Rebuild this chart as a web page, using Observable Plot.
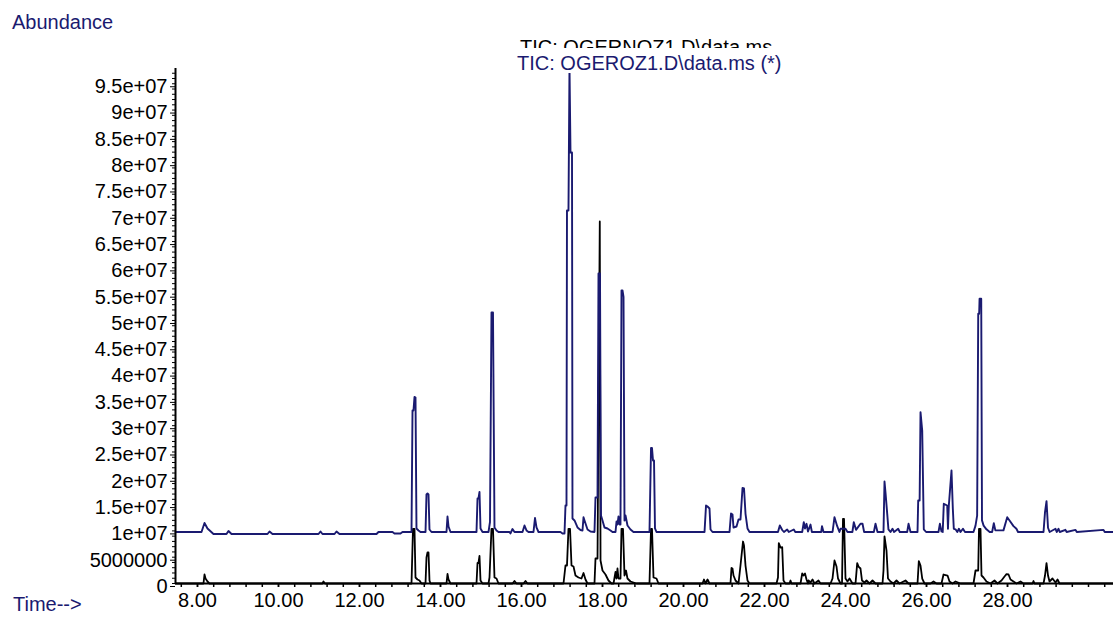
<!DOCTYPE html>
<html>
<head>
<meta charset="utf-8">
<script src="https://cdn.jsdelivr.net/npm/d3@7"></script>
<script src="https://cdn.jsdelivr.net/npm/@observablehq/plot@0.6"></script>
<style>
  html, body { margin: 0; padding: 0; background: #fff; }
  #wrap { position: relative; width: 1113px; height: 620px; overflow: hidden; font-family: "Liberation Sans", Arial, sans-serif; }
  #chart { position: absolute; left: 0; top: 0; }
  .lbl { position: absolute; font-size: 20px; line-height: 20px; white-space: nowrap; }
  #abund { left: 12px; top: 12px; color: #1a1a70; }
  #time { left: 13px; top: 594px; color: #1a1a70; }
  #clip1 { position: absolute; left: 518px; top: 38px; width: 262px; height: 10px; overflow: hidden; }
  #title1 { position: absolute; left: 2px; top: -1px; color: #000; font-size: 20px; line-height: 20px; white-space: nowrap; }
  #title2 { left: 514px; top: 50px; padding: 3px 3px 0 3px; background: #fff; color: #1a1a70; }
</style>
</head>
<body>
<div id="wrap">
  <div id="chart"></div>
  <div class="lbl" id="abund">Abundance</div>
  <div class="lbl" id="time">Time--&gt;</div>
  <div id="clip1"><span id="title1">TIC: OGERNOZ1.D\data.ms</span></div>
  <div class="lbl" id="title2">TIC: OGEROZ1.D\data.ms (*)</div>
</div>
<script>
// Retention time (min) and abundance (millions of counts)
const blueTrace = [
  [7.457, 9.79],[8.099, 9.79],[8.173, 11.50],[8.247, 10.46],[8.395, 9.41],[8.716, 9.41],[8.765, 9.98],[8.840, 9.41],
  [9.728, 9.41],[9.778, 9.89],[9.852, 9.41],[10.988, 9.41],[11.037, 9.89],[11.086, 9.41],[11.383, 9.41],[11.432, 9.89],
  [11.506, 9.41],[12.420, 9.41],[12.469, 9.79],[12.815, 9.79],[12.864, 9.51],[13.012, 9.51],[13.062, 9.79],[13.284, 9.79],
  [13.309, 32.89],[13.333, 32.89],[13.358, 35.46],[13.383, 35.36],[13.407, 10.46],[13.457, 10.08],[13.506, 9.79],
  [13.630, 9.79],[13.654, 16.92],[13.679, 17.11],[13.704, 16.92],[13.728, 10.27],[13.778, 9.79],
  [14.148, 9.79],[14.173, 12.74],[14.198, 10.84],[14.247, 9.79],
  [14.889, 9.79],[14.914, 16.16],[14.938, 16.16],[14.963, 17.40],[14.988, 10.46],[15.037, 9.79],
  [15.185, 9.79],[15.222, 11.69],[15.259, 51.52],[15.296, 51.52],[15.333, 10.65],[15.383, 10.08],[15.432, 9.79],
  [15.704, 9.79],[15.728, 9.51],[15.778, 10.36],[15.827, 9.79],[16.025, 9.79],[16.074, 11.03],[16.123, 10.08],[16.173, 9.79],
  [16.296, 9.79],[16.333, 12.45],[16.370, 10.65],[16.420, 9.79],
  [16.963, 9.79],[17.012, 9.51],[17.062, 9.51],[17.086, 14.83],[17.111, 14.83],[17.123, 70.91],[17.160, 70.91],
  [17.185, 98.29],[17.210, 81.94],[17.247, 81.94],[17.259, 12.36],[17.309, 11.98],[17.383, 10.65],[17.457, 10.17],
  [17.506, 10.08],[17.531, 12.60],[17.556, 11.98],[17.630, 10.27],[17.704, 9.89],
  [17.802, 9.79],[17.827, 16.35],[17.877, 16.35],[17.901, 58.94],[17.938, 58.94],[17.963, 12.93],[18.000, 11.98],
  [18.049, 10.65],[18.123, 10.46],[18.198, 10.08],[18.247, 9.79],
  [18.321, 9.79],[18.346, 11.79],[18.370, 11.22],[18.395, 12.74],[18.420, 11.22],[18.444, 11.22],[18.469, 55.70],
  [18.494, 55.70],[18.519, 54.47],[18.543, 11.98],[18.568, 12.93],[18.617, 11.03],[18.691, 10.27],[18.765, 9.79],
  [19.160, 9.79],[19.198, 25.76],[19.222, 25.76],[19.247, 23.38],[19.272, 23.38],[19.296, 10.46],[19.333, 9.79],
  [20.519, 9.79],[20.556, 14.83],[20.593, 14.64],[20.642, 14.26],[20.667, 10.27],[20.716, 9.79],
  [21.136, 9.79],[21.173, 13.31],[21.210, 13.12],[21.235, 10.65],[21.309, 10.84],[21.358, 12.17],[21.407, 12.17],
  [21.457, 18.16],[21.494, 18.06],[21.531, 13.25],[21.580, 10.46],[21.630, 9.79],
  [22.333, 9.79],[22.378, 11.03],[22.437, 10.17],[22.480, 9.79],[22.560, 10.27],[22.600, 9.79],[22.723, 10.27],[22.760, 9.79],
  [22.931, 9.79],[22.970, 11.65],[23.000, 10.46],[23.037, 11.35],[23.074, 9.89],[23.136, 11.20],[23.170, 9.79],
  [23.400, 9.79],[23.420, 10.90],[23.457, 9.79],[23.680, 9.79],[23.728, 12.60],[23.795, 10.90],[23.850, 9.79],
  [23.877, 10.40],[24.000, 10.40],[24.049, 9.79],[24.170, 9.79],[24.205, 11.65],[24.260, 10.20],[24.370, 11.35],
  [24.420, 11.35],[24.460, 9.79],[24.700, 9.79],[24.741, 11.35],[24.790, 9.79],
  [24.938, 9.79],[24.963, 19.39],[24.990, 17.05],[25.030, 13.25],[25.060, 10.30],[25.111, 9.79],[25.160, 10.40],
  [25.200, 9.79],[25.300, 10.40],[25.340, 9.79],[25.523, 9.79],[25.556, 11.35],[25.605, 9.79],
  [25.778, 9.79],[25.795, 15.78],[25.830, 15.78],[25.852, 32.57],[25.894, 29.09],[25.933, 10.30],[25.990, 9.79],
  [26.296, 9.79],[26.330, 11.35],[26.370, 9.89],[26.400, 9.79],[26.427, 15.15],[26.511, 14.83],[26.530, 10.40],
  [26.551, 14.83],[26.617, 21.48],[26.650, 14.20],[26.674, 10.40],[26.716, 10.30],[26.760, 9.79],[26.800, 10.40],
  [26.840, 9.79],[26.900, 10.40],[26.950, 9.79],
  [27.160, 9.79],[27.210, 11.00],[27.250, 12.90],[27.277, 51.27],[27.300, 51.27],[27.310, 54.13],[27.351, 54.13],
  [27.370, 12.00],[27.410, 11.00],[27.480, 10.30],[27.560, 9.79],[27.620, 9.79],[27.662, 11.46],[27.700, 10.10],
  [27.900, 10.10],[27.993, 12.60],[28.050, 11.98],[28.148, 10.90],[28.220, 10.40],[28.260, 9.79],
  [28.889, 9.79],[28.926, 13.56],[28.963, 15.65],[29.000, 10.60],[29.040, 9.79],[29.185, 10.40],[29.215, 9.79],
  [29.260, 10.40],[29.290, 9.79],[29.430, 10.20],[29.460, 9.79],[29.680, 10.20],[29.710, 9.79],[30.370, 10.20],
  [30.400, 9.79],[30.617, 9.79]
];

const blackTrace = [
  [7.457, 0],[8.148, 0],[8.173, 1.71],[8.198, 0.95],[8.247, 0.38],[8.296, 0],[11.086, 0],[11.111, 0.38],[11.148, 0],
  [13.284, 0],[13.321, 10.4],[13.358, 10.4],[13.383, 1.14],[13.432, 0.76],[13.481, 0.57],[13.531, 0],
  [13.630, 0],[13.654, 4.94],[13.679, 5.89],[13.704, 5.89],[13.728, 0.57],[13.753, 0],
  [14.148, 0],[14.173, 1.81],[14.198, 0.76],[14.247, 0],
  [14.889, 0],[14.914, 3.90],[14.938, 3.90],[14.963, 5.23],[14.988, 0.57],[15.037, 0],
  [15.185, 0],[15.210, 1.14],[15.259, 10.4],[15.296, 10.4],[15.333, 1.14],[15.383, 0.95],[15.432, 0],
  [15.778, 0],[15.827, 0.48],[15.877, 0],[16.049, 0],[16.099, 0.48],[16.148, 0],
  [17.037, 0],[17.086, 3.42],[17.123, 3.42],[17.160, 10.4],[17.198, 10.4],[17.235, 3.42],[17.284, 3.23],
  [17.333, 1.52],[17.407, 1.14],[17.481, 0.95],[17.531, 2.00],[17.580, 0.76],[17.630, 0],
  [17.802, 0],[17.827, 4.75],[17.877, 4.75],[17.933, 68.82],[17.951, 4.37],[18.000, 2.47],[18.074, 1.71],
  [18.148, 0.57],[18.222, 0],
  [18.272, 0],[18.321, 2.19],[18.346, 0.95],[18.370, 2.85],[18.395, 0.95],[18.444, 0.95],[18.469, 10.4],
  [18.506, 10.4],[18.543, 1.52],[18.580, 2.47],[18.617, 0.95],[18.691, 0.38],[18.765, 0.19],[18.840, 0],
  [19.160, 0],[19.198, 10.4],[19.222, 10.4],[19.259, 1.14],[19.333, 0.95],[19.383, 0],
  [20.469, 0],[20.506, 0.76],[20.543, 0],[20.593, 0.76],[20.642, 0],
  [21.160, 0],[21.185, 2.95],[21.210, 2.85],[21.235, 1.52],[21.284, 0.57],[21.358, 0],[21.407, 3.42],
  [21.469, 7.98],[21.494, 7.22],[21.531, 3.42],[21.580, 0.57],[21.630, 0],
  [22.296, 0],[22.333, 1.14],[22.353, 7.66],[22.395, 6.84],[22.437, 6.90],[22.469, 0.57],[22.519, 0],
  [22.617, 0],[22.642, 0.57],[22.667, 0],
  [22.889, 0],[22.931, 1.90],[22.963, 1.52],[23.000, 1.90],[23.037, 0.76],[23.074, 0],[23.086, 0.57],
  [23.136, 0.19],[23.185, 0.76],[23.235, 0],[23.333, 0.57],[23.383, 0],
  [23.630, 0],[23.679, 0.95],[23.728, 4.37],[23.778, 3.23],[23.815, 0.95],[23.877, 0],
  [23.914, 0],[23.938, 12.30],[23.963, 12.30],[24.000, 0.95],[24.049, 0.38],[24.099, 0.95],[24.173, 0],
  [24.247, 0],[24.289, 3.86],[24.321, 3.23],[24.370, 2.85],[24.407, 0.57],[24.469, 0.19],[24.519, 0.57],
  [24.593, 0],[24.667, 0.57],[24.741, 0],
  [24.914, 0],[24.938, 2.47],[24.963, 8.94],[25.012, 6.27],[25.049, 0.95],[25.111, 0.38],[25.185, 0],
  [25.259, 0.57],[25.333, 0],[25.481, 0.57],[25.556, 0],
  [25.778, 0],[25.810, 4.24],[25.852, 3.42],[25.894, 0.95],[25.951, 0],
  [26.099, 0],[26.173, 0.38],[26.247, 0],[26.370, 0],[26.420, 1.71],[26.519, 1.52],[26.568, 0.38],[26.642, 0],
  [26.716, 0.38],[26.840, 0],
  [27.160, 0],[27.210, 2.47],[27.277, 2.47],[27.296, 10.4],[27.333, 10.4],[27.358, 1.52],[27.407, 1.14],
  [27.481, 0.38],[27.580, 0],[27.679, 0.57],[27.753, 0],[27.852, 0.57],[27.926, 1.33],[27.975, 1.77],
  [28.025, 1.71],[28.074, 0.76],[28.148, 0.38],[28.222, 0],[28.321, 0.38],[28.395, 0],
  [28.617, 0],[28.642, 0.48],[28.667, 0],
  [28.889, 0],[28.926, 1.52],[28.963, 3.86],[29.000, 1.52],[29.037, 0.38],[29.111, 0.95],[29.185, 0.19],
  [29.235, 0.76],[29.284, 0],[30.617, 0]
];

const xDomain = [7.457, 30.617];
const yDomain = [0, 97.9];

const yTicks = [0, 5, 10, 15, 20, 25, 30, 35, 40, 45, 50, 55, 60, 65, 70, 75, 80, 85, 90, 95];
const yTickLabels = ["0", "5000000", "1e+07", "1.5e+07", "2e+07", "2.5e+07", "3e+07", "3.5e+07", "4e+07",
  "4.5e+07", "5e+07", "5.5e+07", "6e+07", "6.5e+07", "7e+07", "7.5e+07", "8e+07", "8.5e+07", "9e+07", "9.5e+07"];
const xTicks = [8, 10, 12, 14, 16, 18, 20, 22, 24, 26, 28];
const xTickLabels = ["8.00", "10.00", "12.00", "14.00", "16.00", "18.00", "20.00", "22.00", "24.00", "26.00", "28.00"];

const blueColor = "#1a1a70";
const blackColor = "#000000";

const blueData = blueTrace.map(([t, v]) => ({t, v}));
const blackData = blackTrace.map(([t, v]) => ({t, v}));
const yLabelMap = new Map(yTicks.map((d, i) => [d, yTickLabels[i]]));
const xLabelMap = new Map(xTicks.map((d, i) => [d, xTickLabels[i]]));
const yMinor = d3.range(0, 98, 1);
const xMinor = d3.range(0, 58).map(i => +(7.6 + 0.4 * i).toFixed(1)).filter(d => d <= xDomain[1]);

const chart = Plot.plot({
  width: 1113,
  height: 620,
  marginLeft: 175,
  marginRight: 0,
  marginTop: 68,
  marginBottom: 37,
  style: {fontFamily: "'Liberation Sans', Arial, sans-serif", fontSize: "20px", background: "transparent", overflow: "visible"},
  x: {domain: xDomain, label: null},
  y: {domain: yDomain, label: null},
  marks: [
    Plot.axisY(yMinor, {tickSize: 3, tickFormat: () => "", stroke: "#000"}),
    Plot.axisY(yTicks, {tickSize: 5, tickPadding: 3, tickFormat: d => yLabelMap.get(d), fontSize: 20, dy: 3, fill: "#000", stroke: "#000"}),
    Plot.axisX(xMinor, {tickSize: 4, tickFormat: () => "", stroke: "#000", strokeWidth: 1.5}),
    Plot.axisX(xTicks, {tickSize: 4, tickPadding: 5, tickFormat: d => xLabelMap.get(d), fontSize: 20, fill: "#000", stroke: "#000", strokeWidth: 1.5}),
    Plot.line(blackData, {x: "t", y: "v", stroke: blackColor, strokeWidth: 1.8, curve: "linear"}),
    Plot.line(blueData, {x: "t", y: "v", stroke: blueColor, strokeWidth: 1.9, curve: "linear"}),
    Plot.ruleX([xDomain[0]], {y1: yDomain[0], y2: yDomain[1], stroke: "#000", strokeWidth: 2}),
    Plot.ruleY([0], {stroke: "#000", strokeWidth: 2})
  ]
});
document.getElementById("chart").appendChild(chart);
</script>
</body>
</html>
